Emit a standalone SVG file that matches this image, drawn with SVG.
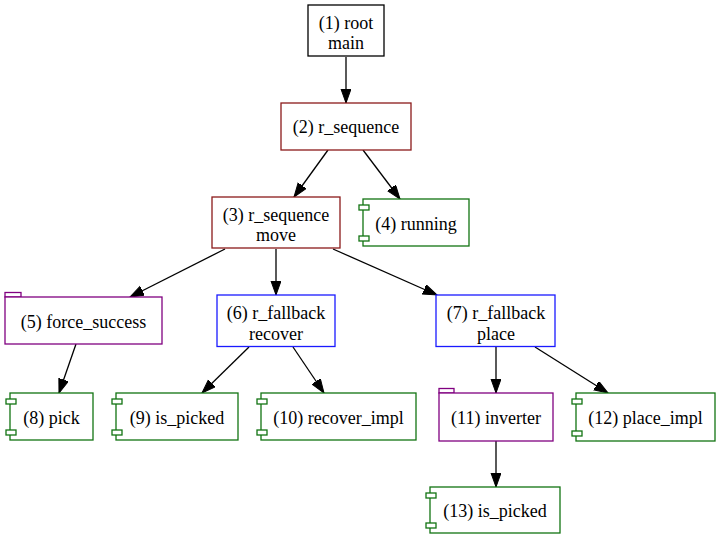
<svg xmlns="http://www.w3.org/2000/svg" width="720" height="539" viewBox="0 0 720 539">
<defs>
<marker id="arr" markerUnits="userSpaceOnUse" markerWidth="15" markerHeight="11" refX="14" refY="5" orient="auto">
<path d="M0,0 L14,5 L0,10 z" fill="#000" stroke="#000" stroke-width="1"/>
</marker>
</defs>
<style>
text{font-family:"Liberation Serif","Times New Roman",serif;font-size:18px;fill:#000;text-anchor:middle}
.b{fill:#fff;stroke-width:1.3}
.k{stroke:#000}
.r{stroke:#8b1a1a}
.u{stroke:#1a1aff}
.p{stroke:#800080}
.g{stroke:#127312}
.e{stroke:#000;stroke-width:1.3;fill:none;marker-end:url(#arr)}
</style>
<rect width="720" height="539" fill="#fff"/>
<g id="edges">
<line class="e" x1="346" y1="57" x2="346" y2="103"/>
<line class="e" x1="328" y1="150" x2="294" y2="197"/>
<line class="e" x1="363" y1="150" x2="400" y2="199"/>
<line class="e" x1="225" y1="249" x2="130" y2="297"/>
<line class="e" x1="276" y1="249" x2="276" y2="295"/>
<line class="e" x1="333" y1="249" x2="437" y2="295"/>
<line class="e" x1="76" y1="344" x2="59" y2="393"/>
<line class="e" x1="249" y1="347" x2="202" y2="393"/>
<line class="e" x1="293" y1="347" x2="324" y2="393"/>
<line class="e" x1="496" y1="347" x2="496" y2="393"/>
<line class="e" x1="535" y1="347" x2="608" y2="393"/>
<line class="e" x1="496" y1="441" x2="496" y2="487"/>
</g>
<g id="n1">
<rect class="b k" x="308" y="5" width="76" height="51"/>
<text x="346" y="28.5">(1) root</text>
<text x="346" y="49">main</text>
</g>
<g id="n2">
<rect class="b r" x="281" y="103" width="130" height="47"/>
<text x="346" y="133">(2) r_sequence</text>
</g>
<g id="n3">
<rect class="b r" x="212" y="197" width="128" height="51"/>
<text x="276" y="220.5">(3) r_sequence</text>
<text x="276" y="241">move</text>
</g>
<g id="n4">
<rect class="b g" x="363" y="199" width="106" height="47"/>
<rect class="b g" x="359" y="205" width="10" height="5"/>
<rect class="b g" x="359" y="236" width="10" height="5"/>
<text x="416" y="229.5">(4) running</text>
</g>
<g id="n5">
<rect class="b p" x="5" y="292.5" width="16" height="4.5"/>
<rect class="b p" x="5" y="297" width="157" height="47"/>
<text x="83.5" y="327.5">(5) force_success</text>
</g>
<g id="n6">
<rect class="b u" x="217" y="295" width="118" height="51.5"/>
<text x="276" y="319">(6) r_fallback</text>
<text x="276" y="339.5">recover</text>
</g>
<g id="n7">
<rect class="b u" x="436" y="295" width="119" height="51.5"/>
<text x="496" y="319">(7) r_fallback</text>
<text x="496" y="339.5">place</text>
</g>
<g id="n8">
<rect class="b g" x="10" y="393" width="83" height="47"/>
<rect class="b g" x="6" y="399" width="10" height="5"/>
<rect class="b g" x="6" y="430" width="10" height="5"/>
<text x="51.5" y="424">(8) pick</text>
</g>
<g id="n9">
<rect class="b g" x="116" y="393" width="122" height="47"/>
<rect class="b g" x="112" y="399" width="10" height="5"/>
<rect class="b g" x="112" y="430" width="10" height="5"/>
<text x="177" y="424">(9) is_picked</text>
</g>
<g id="n10">
<rect class="b g" x="261" y="393" width="155" height="47"/>
<rect class="b g" x="257" y="399" width="10" height="5"/>
<rect class="b g" x="257" y="430" width="10" height="5"/>
<text x="338.5" y="424">(10) recover_impl</text>
</g>
<g id="n11">
<rect class="b p" x="439" y="388.5" width="15" height="4.5"/>
<rect class="b p" x="439" y="393" width="114" height="48"/>
<text x="496" y="424">(11) inverter</text>
</g>
<g id="n12">
<rect class="b g" x="576" y="393" width="139" height="48"/>
<rect class="b g" x="572" y="399" width="10" height="5"/>
<rect class="b g" x="572" y="431" width="10" height="5"/>
<text x="645.5" y="424">(12) place_impl</text>
</g>
<g id="n13">
<rect class="b g" x="430" y="487" width="130" height="46"/>
<rect class="b g" x="426" y="493" width="10" height="5"/>
<rect class="b g" x="426" y="523" width="10" height="5"/>
<text x="495" y="517">(13) is_picked</text>
</g>
</svg>
